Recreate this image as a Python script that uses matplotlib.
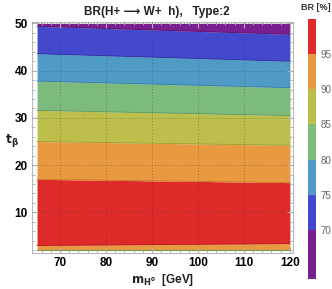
import numpy as np
import matplotlib.pyplot as plt
from matplotlib.colors import ListedColormap, BoundaryNorm
from matplotlib.colorbar import ColorbarBase
from matplotlib.ticker import MultipleLocator

plt.rcParams['font.family'] = ['Liberation Sans', 'DejaVu Sans']

# charged Higgs -> W h branching ratio, contour bands
m_h = [65, 120]
# t_beta of each band edge at m_h = 65 and m_h = 120 (bottom to top)
edges = [
   [2.1, 2.1],
   [3.0, 3.4],
   [17.0, 16.3],
   [25.0, 24.2],
   [31.6, 30.5],
   [37.8, 36.4],
   [43.6, 42.0],
   [49.4, 47.7],
   [50.0, 50.0],
]
# BR level of each band (bottom to top)
band_level = [92.5, 97.5, 92.5, 87.5, 82.5, 77.5, 72.5, 67.5]

levels = [63, 70, 75, 80, 85, 90, 95, 100]
colors = ['#7a1f8f', '#4349cc', '#4f9bc6', '#7dbb7c', '#bdbf4c', '#e9993f', '#df2a2a']
line_colors = ['#5e1670', '#2f349c', '#3c7ea6', '#5f9a5e', '#9c9e34', '#c67a26', '#b81d1d']

cmap = ListedColormap(colors)
norm = BoundaryNorm(levels, cmap.N)

fig = plt.figure(figsize=(3.32, 2.89), dpi=100)
ax = fig.add_axes([32/332, 36/289, 261/332, 231/289])

for i, lev in enumerate(band_level):
   k = np.searchsorted(levels, lev) - 1
   ax.fill_between(m_h, edges[i], edges[i+1], color=colors[k], lw=0)
for i in range(1, len(edges)-1):
   k = np.searchsorted(levels, band_level[i]) - 1
   ax.plot(m_h, edges[i], color=line_colors[k], lw=0.6)
ax.plot(m_h, edges[0], color='#6f9a4a', lw=0.8)

ax.set_xlim(63.9, 120.7)
ax.set_ylim(1.4, 50.3)
ax.xaxis.set_major_locator(MultipleLocator(10))
ax.yaxis.set_major_locator(MultipleLocator(10))
ax.xaxis.set_minor_locator(MultipleLocator(2))
ax.yaxis.set_minor_locator(MultipleLocator(2))
ax.tick_params(which='both', direction='in', top=True, right=True, color='#b0b0b0',
   labelsize=8.5, pad=3)
ax.tick_params(which='major', length=4)
ax.tick_params(which='minor', length=2)
for lbl in ax.get_xticklabels() + ax.get_yticklabels():
   lbl.set_fontweight('bold')
for sp in ax.spines.values():
   sp.set_color('#b8b8b8')
   sp.set_linewidth(0.8)
ax.grid(which='major', color='#333333', ls=(0, (1, 2.5)), lw=0.6, alpha=0.5)
ax.set_axisbelow(False)

fig.text(157/332, 1-12/289, 'BR(H+ ⟶ W+  h),   Type:2', ha='center', va='center',
   fontsize=8.5, fontweight='bold', color='#222222')
fig.text(163/332, 1-280/289, r'$\mathbf{m_{H^0}}$  [GeV]', ha='center', va='center',
   fontsize=8.5, fontweight='bold', color='#222222')
fig.text(12/332, 1-141/289, r'$\mathbf{t_\beta}$', ha='center', va='center',
   fontsize=9, color='#222222')

cax = fig.add_axes([308/332, 10/289, 8/332, 260/289])
cb = ColorbarBase(cax, cmap=cmap, norm=norm, boundaries=levels, spacing='proportional',
   ticks=[70, 75, 80, 85, 90, 95])
cb.outline.set_visible(False)
cb.minorticks_off()
cax.tick_params(which='both', length=0, labelsize=7, colors='#666666', pad=3)
fig.text(316/332, 1-7/289, 'BR [%]', ha='center', va='center', fontsize=6.5,
   fontweight='bold', color='#333333')

fig.savefig('out.png', dpi=100)
